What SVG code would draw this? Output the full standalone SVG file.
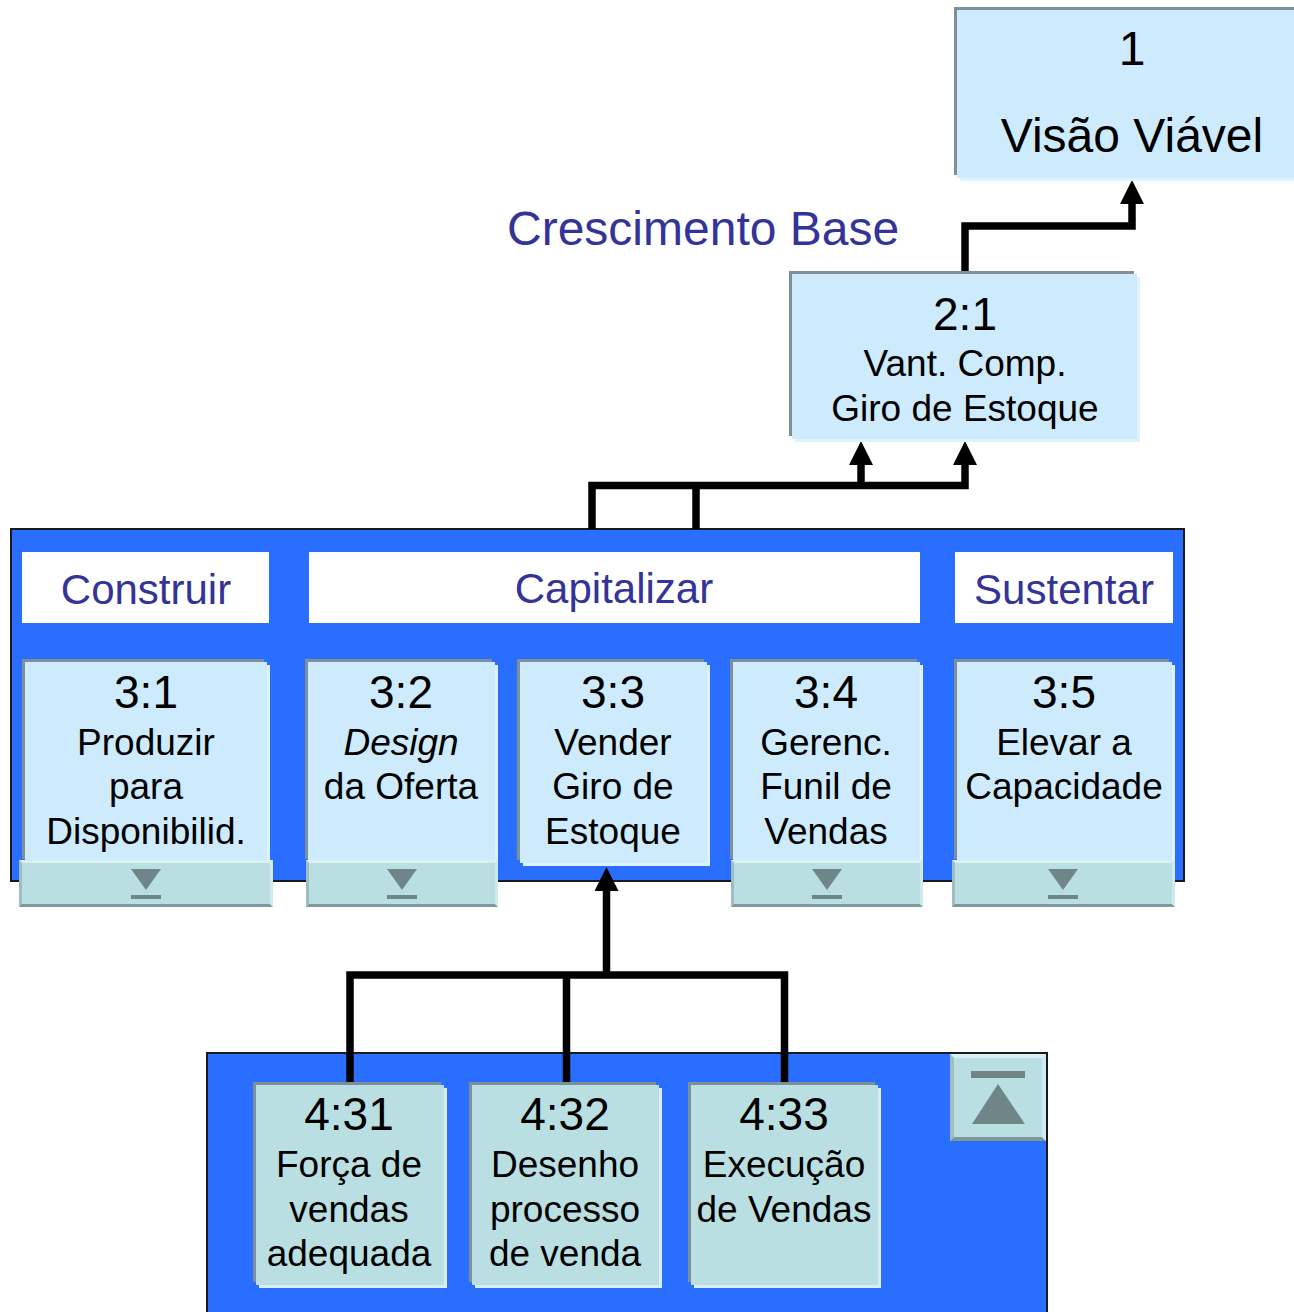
<svg xmlns="http://www.w3.org/2000/svg" width="1294" height="1312" viewBox="0 0 1294 1312">
  <style>
    text { font-family: "Liberation Sans", Arial, sans-serif; fill: #000; text-anchor: middle; }
    .big { font-size: 48px; }
    .num { font-size: 46px; }
    .lbl { font-size: 37px; }
    .hdr { font-size: 42px; fill: #333399; }
    .title { font-size: 48px; fill: #333399; text-anchor: start; }
    .panel { fill: #2a6eff; stroke: #1a1a1a; stroke-width: 2; }
    .head { fill: #ffffff; }
    .glow { fill: #ddf2fd; }
    .edge { fill: #7d8f98; }
    .face { fill: #cdebfd; }
    .glow2 { fill: #d8eef0; }
    .face2 { fill: #b9dfe3; }
    .btn { fill: #b9dfe3; }
    .hi { fill: #d9f0f2; }
    .side { fill: #9fbcc0; }
    .lo { fill: #7f989c; }
    .rt { fill: #cfeaec; }
    .glyph { fill: #6f8689; }
    .wire { fill: none; stroke: #000; stroke-width: 7.5; stroke-linejoin: miter; stroke-linecap: butt; }
  </style>
  <defs>
    <marker id="arrow" viewBox="0 0 24 24" refX="0" refY="12" markerWidth="24" markerHeight="24" markerUnits="userSpaceOnUse" orient="auto">
      <path d="M0,0 L24,12 L0,24 Z" fill="#000"/>
    </marker>
  </defs>

  <rect width="1294" height="1312" fill="#ffffff"/>

  <!-- level 3 panel -->
  <g id="panel3">
    <rect class="panel" x="11" y="529" width="1173" height="352"/>
    <rect class="head" x="22" y="552" width="247" height="71"/>
    <rect class="head" x="309" y="552" width="611" height="71"/>
    <rect class="head" x="955" y="552" width="218" height="71"/>
    <text class="hdr" x="146" y="604">Construir</text>
    <text class="hdr" x="614" y="603">Capitalizar</text>
    <text class="hdr" x="1064" y="604">Sustentar</text>
  </g>

  <!-- level 4 panel -->
  <g id="panel4">
    <rect class="panel" x="207" y="1053" width="840" height="280"/>
  </g>

  <text id="titulo" class="title" x="507" y="245">Crescimento Base</text>

  <!-- connectors -->
  <g id="connectors">
    <path class="wire" d="M965,271 V226 H1132 V204" marker-end="url(#arrow)"/>
    <path class="wire" d="M592,529 V485.5 H965 V465" marker-end="url(#arrow)"/>
    <path class="wire" d="M696,529 V485.5"/>
    <path class="wire" d="M861,485.5 V465" marker-end="url(#arrow)"/>
    <path class="wire" d="M350,1082 V975 H784.5 V1082"/>
    <path class="wire" d="M566.5,975 V1082"/>
    <path class="wire" d="M606.5,975 V891" marker-end="url(#arrow)"/>
  </g>

  <!-- node 1 -->
  <g id="n1">
    <rect class="glow" x="960" y="13" width="350" height="168"/>
    <rect class="edge" x="954" y="7" width="350" height="168"/>
    <rect class="face" x="957" y="10" width="350" height="168"/>
    <text class="big" x="1132" y="65">1</text>
    <text class="big" x="1132" y="152">Visão Viável</text>
  </g>

  <!-- node 2:1 -->
  <g id="n21">
    <rect class="glow" x="795" y="277" width="345" height="165"/>
    <rect class="edge" x="789" y="271" width="345" height="165"/>
    <rect class="face" x="792" y="274" width="345" height="165"/>
    <text class="num" x="965" y="330">2:1</text>
    <text class="lbl" x="965" y="376">Vant. Comp.</text>
    <text class="lbl" x="965" y="421">Giro de Estoque</text>
  </g>

  <!-- node 3:1 -->
  <g id="n31">
    <rect class="glow" x="28" y="665" width="242" height="200"/>
    <rect class="edge" x="22" y="659" width="242" height="200"/>
    <rect class="face" x="25" y="662" width="242" height="200"/>
    <text class="num" x="146" y="708">3:1</text>
    <text class="lbl" x="146" y="755">Produzir</text>
    <text class="lbl" x="146" y="799">para</text>
    <text class="lbl" x="146" y="844">Disponibilid.</text>
    <rect class="btn" x="19" y="860" width="254" height="47"/>
    <polygon class="hi" points="19,860 273,860 270,863 22,863"/>
    <polygon class="side" points="19,860 22,863 22,904 19,907"/>
    <polygon class="lo" points="19,907 22,904 270,904 273,907"/>
    <polygon class="rt" points="273,860 273,907 270,904 270,863"/>
    <polygon class="glyph" points="131,869 161,869 146,890"/>
    <rect class="glyph" x="131" y="895" width="30" height="4"/>
  </g>

  <!-- node 3:2 -->
  <g id="n32">
    <rect class="glow" x="311" y="665" width="187" height="200"/>
    <rect class="edge" x="305" y="659" width="187" height="200"/>
    <rect class="face" x="308" y="662" width="187" height="200"/>
    <text class="num" x="401" y="708">3:2</text>
    <text class="lbl" x="401" y="755" font-style="italic">Design</text>
    <text class="lbl" x="401" y="799">da Oferta</text>
    <rect class="btn" x="306" y="860" width="192" height="47"/>
    <polygon class="hi" points="306,860 498,860 495,863 309,863"/>
    <polygon class="side" points="306,860 309,863 309,904 306,907"/>
    <polygon class="lo" points="306,907 309,904 495,904 498,907"/>
    <polygon class="rt" points="498,860 498,907 495,904 495,863"/>
    <polygon class="glyph" points="387,869 417,869 402,890"/>
    <rect class="glyph" x="387" y="895" width="30" height="4"/>
  </g>

  <!-- node 3:3 -->
  <g id="n33">
    <rect class="glow" x="523" y="665" width="187" height="201"/>
    <rect class="edge" x="517" y="659" width="187" height="201"/>
    <rect class="face" x="520" y="662" width="187" height="201"/>
    <text class="num" x="613" y="708">3:3</text>
    <text class="lbl" x="613" y="755">Vender</text>
    <text class="lbl" x="613" y="799">Giro de</text>
    <text class="lbl" x="613" y="844">Estoque</text>
  </g>

  <!-- node 3:4 -->
  <g id="n34">
    <rect class="glow" x="736" y="665" width="187" height="200"/>
    <rect class="edge" x="730" y="659" width="187" height="200"/>
    <rect class="face" x="733" y="662" width="187" height="200"/>
    <text class="num" x="826" y="708">3:4</text>
    <text class="lbl" x="826" y="755">Gerenc.</text>
    <text class="lbl" x="826" y="799">Funil de</text>
    <text class="lbl" x="826" y="844">Vendas</text>
    <rect class="btn" x="731" y="860" width="192" height="47"/>
    <polygon class="hi" points="731,860 923,860 920,863 734,863"/>
    <polygon class="side" points="731,860 734,863 734,904 731,907"/>
    <polygon class="lo" points="731,907 734,904 920,904 923,907"/>
    <polygon class="rt" points="923,860 923,907 920,904 920,863"/>
    <polygon class="glyph" points="812,869 842,869 827,890"/>
    <rect class="glyph" x="812" y="895" width="30" height="4"/>
  </g>

  <!-- node 3:5 -->
  <g id="n35">
    <rect class="glow" x="960" y="665" width="215" height="200"/>
    <rect class="edge" x="954" y="659" width="215" height="200"/>
    <rect class="face" x="957" y="662" width="215" height="200"/>
    <text class="num" x="1064" y="708">3:5</text>
    <text class="lbl" x="1064" y="755">Elevar a</text>
    <text class="lbl" x="1064" y="799">Capacidade</text>
    <rect class="btn" x="952" y="860" width="223" height="47"/>
    <polygon class="hi" points="952,860 1175,860 1172,863 955,863"/>
    <polygon class="side" points="952,860 955,863 955,904 952,907"/>
    <polygon class="lo" points="952,907 955,904 1172,904 1175,907"/>
    <polygon class="rt" points="1175,860 1175,907 1172,904 1172,863"/>
    <polygon class="glyph" points="1048,869 1078,869 1063,890"/>
    <rect class="glyph" x="1048" y="895" width="30" height="4"/>
  </g>

  <!-- node 4:31 -->
  <g id="n431">
    <rect class="glow2" x="259" y="1088" width="188" height="200"/>
    <rect class="edge" x="253" y="1082" width="188" height="200"/>
    <rect class="face2" x="256" y="1085" width="188" height="200"/>
    <text class="num" x="349" y="1130">4:31</text>
    <text class="lbl" x="349" y="1177">Força de</text>
    <text class="lbl" x="349" y="1222">vendas</text>
    <text class="lbl" x="349" y="1266">adequada</text>
  </g>

  <!-- node 4:32 -->
  <g id="n432">
    <rect class="glow2" x="475" y="1088" width="187" height="200"/>
    <rect class="edge" x="469" y="1082" width="187" height="200"/>
    <rect class="face2" x="472" y="1085" width="187" height="200"/>
    <text class="num" x="565" y="1130">4:32</text>
    <text class="lbl" x="565" y="1177">Desenho</text>
    <text class="lbl" x="565" y="1222">processo</text>
    <text class="lbl" x="565" y="1266">de venda</text>
  </g>

  <!-- node 4:33 -->
  <g id="n433">
    <rect class="glow2" x="694" y="1088" width="187" height="200"/>
    <rect class="edge" x="688" y="1082" width="187" height="200"/>
    <rect class="face2" x="691" y="1085" width="187" height="200"/>
    <text class="num" x="784" y="1130">4:33</text>
    <text class="lbl" x="784" y="1177">Execução</text>
    <text class="lbl" x="784" y="1222">de Vendas</text>
  </g>

  <!-- collapse button of the level 4 panel -->
  <g id="upButton">
    <rect class="btn" x="950" y="1054" width="96" height="87"/>
    <polygon class="hi" points="950,1054 1046,1054 1042,1058 954,1058"/>
    <polygon class="side" points="950,1054 954,1058 954,1137 950,1141"/>
    <polygon class="lo" points="950,1141 954,1137 1042,1137 1046,1141"/>
    <polygon class="rt" points="1046,1054 1046,1141 1042,1137 1042,1058"/>
    <rect class="glyph" x="971" y="1071" width="54" height="7"/>
    <polygon class="glyph" points="998,1084 972,1124 1025,1124"/>
  </g>
</svg>
